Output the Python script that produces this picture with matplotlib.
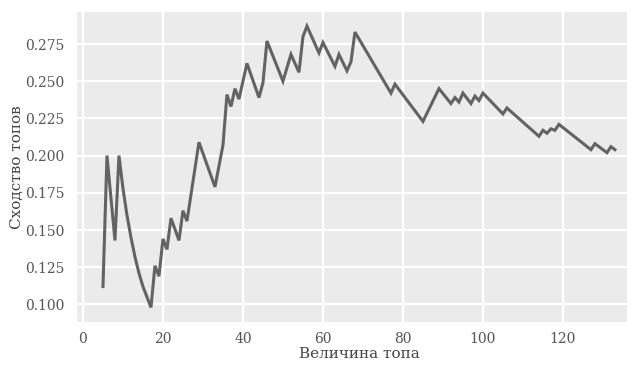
import matplotlib
matplotlib.use("Agg")
import matplotlib.pyplot as plt

plt.style.use("ggplot")
plt.rcParams["font.family"] = ["DejaVu Serif"]

# vertices of the similarity curve (top size -> similarity)
top_size = [5, 6, 8, 9, 10, 11, 12, 13, 14, 15, 16, 17, 18, 19, 20, 21, 22,
            24, 25, 26, 29, 33, 35, 36, 37, 38, 39, 41, 44, 45, 46, 50, 52,
            54, 55, 56, 59, 60, 63, 64, 66, 67, 68, 77, 78, 85, 89, 92, 93,
            94, 95, 97, 98, 99, 100, 105, 106, 114, 115, 116, 117, 118, 119,
            127, 128, 131, 132, 133]
similarity = [0.112, 0.200, 0.143, 0.200, 0.178, 0.160, 0.145, 0.132, 0.121,
              0.112, 0.105, 0.098, 0.126, 0.119, 0.144, 0.137, 0.158,
              0.143, 0.163, 0.156, 0.209, 0.179, 0.207, 0.241, 0.233, 0.245,
              0.238, 0.262, 0.239, 0.249, 0.277, 0.250, 0.268,
              0.256, 0.280, 0.287, 0.269, 0.276, 0.260, 0.268, 0.257, 0.263,
              0.283, 0.242, 0.248, 0.223, 0.245, 0.235, 0.239,
              0.236, 0.242, 0.235, 0.240, 0.237, 0.242, 0.228, 0.232,
              0.213, 0.217, 0.215, 0.218, 0.217, 0.221,
              0.204, 0.208, 0.202, 0.206, 0.204]

x_ticks = [0, 20, 40, 60, 80, 100, 120]
y_ticks = [0.100, 0.125, 0.150, 0.175, 0.200, 0.225, 0.250, 0.275]

fig = plt.figure(figsize=(6.27, 3.65), dpi=100)
fig.patch.set_facecolor("white")
ax = fig.add_axes([0.1234, 0.1178, 0.8982, 0.8493])
ax.set_facecolor("#EBEBEB")

ax.plot(top_size, similarity, color="#636363", lw=2.2, solid_joinstyle="miter")

ax.set_xlim(-1.4, 139.4)
ax.set_ylim(0.0882, 0.2965)
ax.set_xticks(x_ticks)
ax.set_yticks(y_ticks)
ax.set_yticklabels([f"{v:.3f}" for v in y_ticks])
ax.grid(True, color="white", lw=1.6)
ax.tick_params(length=0, labelsize=10, labelcolor="#555555")
ax.tick_params(axis="y", pad=9)
ax.tick_params(axis="x", pad=7)
for s in ax.spines.values():
    s.set_visible(False)

ax.set_xlabel("Величина топа", fontsize=11, color="#444444")
ax.set_ylabel("Сходство топов", fontsize=11, color="#444444")
ax.xaxis.set_label_coords(0.5, -0.082)
ax.yaxis.set_label_coords(-0.095, 0.5)

fig.savefig("out.png", dpi=100)
